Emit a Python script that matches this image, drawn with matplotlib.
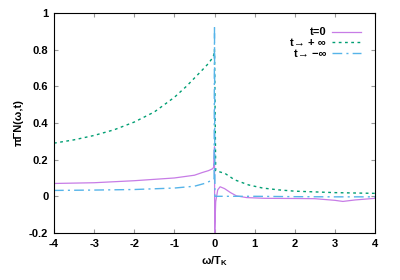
import matplotlib
matplotlib.use("Agg")
import matplotlib.pyplot as plt

# t=0 curve
mag_x = [-4, -3, -2, -1, -0.5, -0.3, -0.15, -0.05, -0.02, 0, 0.005, 0.03, 0.08,
         0.14, 0.25, 0.4, 0.55, 0.8, 1.25, 2, 2.5, 3, 3.2, 3.5, 4]
mag_y = [0.07, 0.074, 0.085, 0.10, 0.115, 0.13, 0.14, 0.15, 0.158, 0.27, -0.2,
         -0.03, 0.035, 0.052, 0.042, 0.02, 0.002, -0.007, -0.011, -0.012, -0.013,
         -0.022, -0.028, -0.02, -0.011]

# t -> +inf curve
grn_x = [-4, -3.5, -3, -2.5, -2, -1.5, -1, -0.7, -0.5, -0.3, -0.15, -0.05, -0.02,
         0, 0.03, 0.1, 0.26, 0.5, 0.85, 1.2, 1.6, 2, 3, 4]
grn_y = [0.29, 0.308, 0.332, 0.363, 0.405, 0.46, 0.54, 0.60, 0.645, 0.69, 0.725,
         0.755, 0.77, 0.80, 0.14, 0.135, 0.125, 0.09, 0.062, 0.045, 0.035, 0.028,
         0.02, 0.016]

# t -> -inf curve
blu_x = [-4, -3, -2, -1, -0.5, -0.25, -0.12, -0.03, -0.01, 0, 0.01, 0.5, 1, 2, 3, 4]
blu_y = [0.032, 0.034, 0.037, 0.045, 0.055, 0.07, 0.082, 0.09, 0.095, 0.93, 0.0,
         0.0, 0.0, -0.002, -0.003, -0.003]

x_ticks = [-4, -3, -2, -1, 0, 1, 2, 3, 4]
y_ticks = [-0.2, 0, 0.2, 0.4, 0.6, 0.8, 1]
y_labels = ["-0.2", "0", "0.2", "0.4", "0.6", "0.8", "1"]

plt.rcParams['font.family'] = ['Liberation Sans', 'DejaVu Sans']

fig = plt.figure(figsize=(4, 2.8), dpi=100)
ax = fig.add_axes([0.135, 0.168, 0.8025, 0.7856])

ax.plot(mag_x, mag_y, color="#c77ce6", lw=0.9, label="t=0")
ax.plot(grn_x, grn_y, color="#009e73", lw=1.0, dashes=(2, 2.5), label="t\u2192 + \u221e")
ax.plot(blu_x, blu_y, color="#56b4e9", lw=1.0, dashes=(7, 3, 1.5, 3), label="t\u2192 \u2212\u221e")

ax.set_xlim(-4, 4)
ax.set_ylim(-0.2, 1)
ax.set_xticks(x_ticks)
ax.set_xticklabels([str(t) for t in x_ticks], fontweight="bold", fontsize=8)
ax.set_yticks(y_ticks)
ax.set_yticklabels(y_labels, fontweight="bold", fontsize=8)
ax.tick_params(direction="in", length=3, top=True, right=True, color="#999999", pad=4)

ax.set_xlabel("\u03c9/T$_\\mathregular{K}$", fontweight="bold", fontsize=8, labelpad=4)
ax.set_ylabel("\u03c0\u0393N(\u03c9,t)", fontweight="bold", fontsize=8, labelpad=4)

leg = ax.legend(loc="upper right", frameon=False, markerfirst=False,
                prop={"weight": "bold", "size": 8}, handlelength=2.6,
                handletextpad=0.5, labelspacing=0.05, borderaxespad=0.9)

fig.savefig("out.png", dpi=100)
